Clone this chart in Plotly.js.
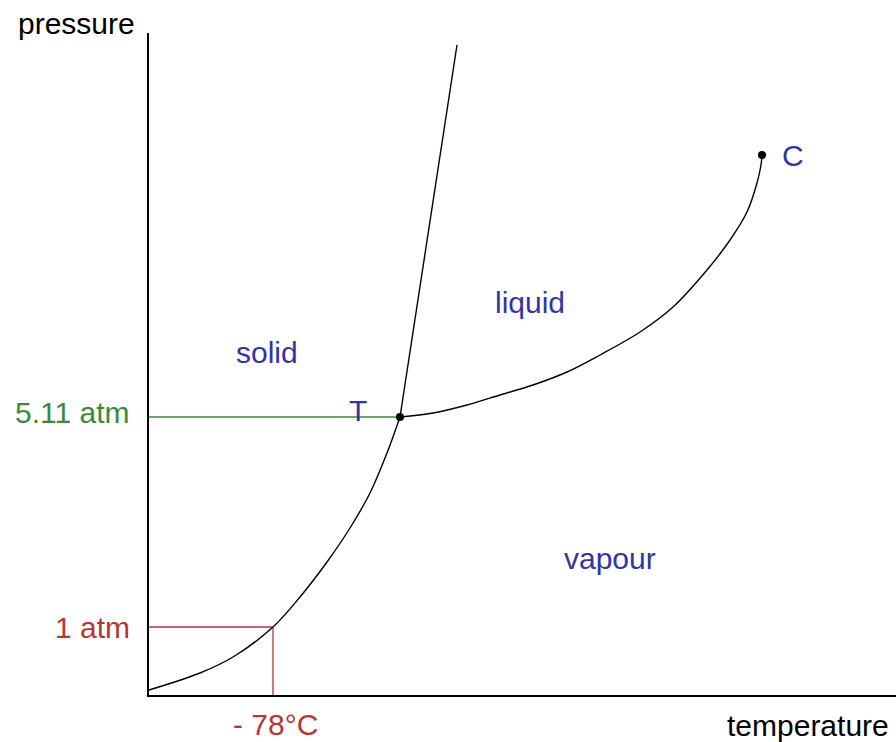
<!DOCTYPE html>
<html>
<head>
<meta charset="utf-8">
<script src="https://cdn.plot.ly/plotly-3.0.1.min.js"></script>
<style>html,body{margin:0;padding:0;background:#fff;}#chart{width:896px;height:742px;}</style>
</head>
<body>
<div id="chart"></div>
<script>
// Arbitrary temperature / pressure units (origin at axes corner)
const sublimationT = [0, 51, 84, 124, 151, 178, 201, 221, 238, 251];
const sublimationP = [5, 22, 38, 68, 98, 133, 167, 202, 242, 278];
const vaporT = [251, 284, 318, 351, 384, 418, 451, 491, 524, 558, 581, 598, 608, 612, 613];
const vaporP = [278, 282, 290, 300, 310, 323, 340, 363, 388, 425, 455, 483, 512, 530, 540];
const meltT = [251, 308];
const meltP = [278, 650];
const tripleT = 251, tripleP = 278;
const criticalT = 613, criticalP = 540;
const oneAtmT = 124, oneAtmP = 68;
const regionLabels = ["solid", "liquid", "vapour"];
const pointLabels = ["T", "C"];
const tickLabels = ["5.11 atm", "1 atm", "- 78°C"];
const axisLabels = ["temperature", "pressure"];

const FONT = "Liberation Sans, Arial, sans-serif";
const BLUE = "#3333a8", GREEN = "#3a8a3a", RED = "#b83535";
const FS = 30;

const traces = [
  {x: [0, tripleT], y: [tripleP, tripleP], mode: "lines", line: {color: GREEN, width: 1.3}},
  {x: [0, oneAtmT, oneAtmT], y: [oneAtmP, oneAtmP, 0], mode: "lines", line: {color: RED, width: 1.3}},
  {x: sublimationT, y: sublimationP, mode: "lines", line: {color: "#000", width: 1.4, shape: "spline", smoothing: 1}},
  {x: vaporT, y: vaporP, mode: "lines", line: {color: "#000", width: 1.4, shape: "spline", smoothing: 1}},
  {x: meltT, y: meltP, mode: "lines", line: {color: "#000", width: 1.4}},
  {x: [tripleT, criticalT], y: [tripleP, criticalP], mode: "markers", marker: {color: "#000", size: 8}, cliponaxis: false}
];

const ann = (x, y, text, color, extra) => Object.assign({
  x: x, y: y, xref: "x", yref: "y", text: text, showarrow: false,
  xanchor: "center", yanchor: "middle",
  font: {family: FONT, size: FS, color: color}
}, extra || {});
const pann = (x, y, text, color, extra) => ann(x, y, text, color, Object.assign({xref: "paper", yref: "paper"}, extra || {}));

const layout = {
  width: 896, height: 742,
  margin: {l: 149, r: 0, t: 33, b: 47, pad: 0},
  paper_bgcolor: "#fff", plot_bgcolor: "#fff",
  showlegend: false,
  xaxis: {range: [0, 747], showgrid: false, zeroline: false, showticklabels: false, ticks: "",
          showline: true, linecolor: "#000", linewidth: 1.6, fixedrange: true},
  yaxis: {range: [0, 662], showgrid: false, zeroline: false, showticklabels: false, ticks: "",
          showline: true, linecolor: "#000", linewidth: 1.6, fixedrange: true},
  annotations: [
    ann(118, 343, regionLabels[0], BLUE),
    ann(381, 393, regionLabels[1], BLUE),
    ann(461, 137, regionLabels[2], BLUE),
    ann(209, 285, pointLabels[0], BLUE),
    ann(644, 540, pointLabels[1], BLUE),
    pann(-0.0228, 0.426, tickLabels[0], GREEN, {xanchor: "right"}),
    pann(-0.0228, 0.1027, tickLabels[1], RED, {xanchor: "right"}),
    pann(0.1687, -0.044, tickLabels[2], RED),
    pann(0.882, -0.046, axisLabels[0], "#000"),
    pann(-0.0977, 1.0136, axisLabels[1], "#000")
  ]
};

Plotly.newPlot("chart", traces, layout, {displayModeBar: false, staticPlot: true});
</script>
</body>
</html>
